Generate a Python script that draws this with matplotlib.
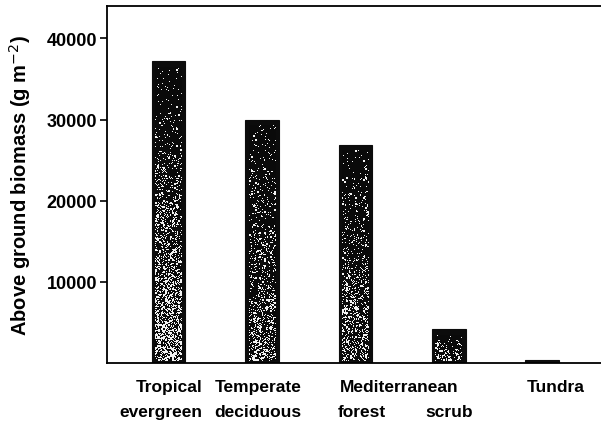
import numpy as np
import matplotlib
matplotlib.use("Agg")
import matplotlib.pyplot as plt
from matplotlib.colors import LinearSegmentedColormap
from matplotlib.transforms import blended_transform_factory

# Above-ground biomass by biome
biomes = ["Tropical evergreen", "Temperate deciduous", "Mediterranean forest",
          "Mediterranean scrub", "Tundra"]
biomass = [37200, 30000, 26900, 4200, 400]
yticks = [10000, 20000, 30000, 40000]

plt.rcParams["font.family"] = ["Liberation Sans", "DejaVu Sans"]

fig = plt.figure(figsize=(6.01, 4.27), dpi=100)
ax = fig.add_axes([0.178, 0.1475, 0.83, 0.836])

x = np.arange(len(biomes))
bars = ax.bar(x, biomass, width=0.36, color="#0c0c0c", edgecolor="#0c0c0c",
              linewidth=0.8, zorder=2)

ax.set_xlim(-0.66, 4.68)
ax.set_ylim(0, 44000)

# stippled print texture: solid ink near the top, speckled lighter toward the base
rng = np.random.default_rng(7)
cmap = LinearSegmentedColormap.from_list("ink", ["#0a0a0a", "#f2f2f2"])
for i, b in enumerate(bars):
    x0, y0 = b.get_x(), b.get_y()
    bw, bh = b.get_width(), b.get_height()
    if bh < 2000:
        continue
    rows = max(int(300 * bh / 37200), 20)
    rows += rows % 2
    cols = 28
    lo, hi = (0.02, 0.42) if i == 0 else (0.04, 0.27)
    t = np.linspace(1, 0, rows)[:, None]
    grad = lo + (hi - lo) * t ** 1.3
    fine = rng.random((rows, cols)) < grad
    coarse = rng.random((rows // 2, cols // 2)) < grad[::2] * 0.35
    coarse = np.kron(coarse, np.ones((2, 2)))[:rows, :cols].astype(bool)
    tex = (fine | coarse).astype(float)
    tex = tex[::-1]
    margin = 0.1 * bw
    im = ax.imshow(tex, cmap=cmap, vmin=0, vmax=1, aspect="auto", origin="upper",
                   extent=[x0 + margin, x0 + bw - margin, y0 + 300, y0 + bh - 700],
                   interpolation="nearest", zorder=3)
    im.set_clip_path(b)

ax.spines["right"].set_visible(False)
for s in ["left", "top", "bottom"]:
    ax.spines[s].set_linewidth(1.3)

ax.set_yticks(yticks)
ax.set_yticklabels([str(v) for v in yticks], fontsize=13, fontweight="bold")
ax.tick_params(axis="y", direction="out", length=5, width=1.2, pad=2)
ax.set_xticks([])
ax.set_ylabel("Above ground biomass (g m$^{-2}$)", fontsize=14.5,
              fontweight="bold", labelpad=10)

# category labels below the axis
tr = blended_transform_factory(ax.transData, ax.transAxes)
kw = dict(transform=tr, fontsize=12.5, fontweight="bold", va="top")
ax.text(x[0] + 0.01, -0.045, "Tropical", ha="center", **kw)
ax.text(x[0] - 0.08, -0.115, "evergreen", ha="center", **kw)
ax.text(x[1] - 0.04, -0.045, "Temperate", ha="center", **kw)
ax.text(x[1] - 0.04, -0.115, "deciduous", ha="center", **kw)
ax.text((x[2] + x[3]) / 2 - 0.03, -0.045, "Mediterranean", ha="center", **kw)
ax.text(x[2] - 0.19, -0.115, "forest", ha="left", **kw)
ax.text(x[3], -0.115, "scrub", ha="center", **kw)
ax.text(x[4] + 0.14, -0.045, "Tundra", ha="center", **kw)

fig.savefig("out.png", dpi=100)
